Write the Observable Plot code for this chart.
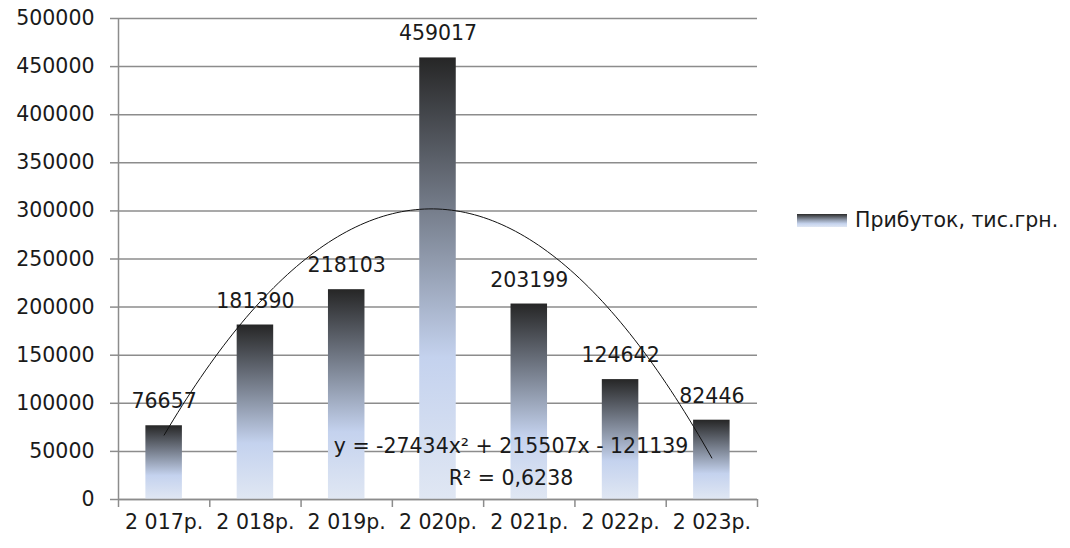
<!DOCTYPE html>
<html>
<head>
<meta charset="utf-8">
<script src="https://cdn.jsdelivr.net/npm/d3@7"></script>
<script src="https://cdn.jsdelivr.net/npm/@observablehq/plot@0.6"></script>
<style>
  html, body { margin: 0; padding: 0; background: #fff; }
  #wrap { position: relative; width: 1070px; height: 548px; font-family: "DejaVu Sans", sans-serif; }
  #legend { position: absolute; left: 797px; top: 208px; display: flex; align-items: center; font-size: 20.5px; color: #1a1a1a; }
  #legend .sw { width: 50px; height: 13px; margin-right: 8px; background: linear-gradient(#2b2b2b, #8f99aa 45%, #c6d4ee 75%, #dfe6f3); }
</style>
</head>
<body>
<div id="wrap"><div id="chart"></div>
<div id="legend"><span class="sw"></span><span>Прибуток, тис.грн.</span></div></div>
<script>
const years = ["2 017р.", "2 018р.", "2 019р.", "2 020р.", "2 021р.", "2 022р.", "2 023р."];
const profit = [76657, 181390, 218103, 459017, 203199, 124642, 82446];
const trendCoef = [-27434, 215507, -121139]; // a, b, c of y = a x² + b x + c
const equationText = ["y = -27434x² + 215507x - 121139", "R² = 0,6238"];
const yTicks = [0, 50000, 100000, 150000, 200000, 250000, 300000, 350000, 400000, 450000, 500000];

const data = profit.map((v, i) => ({i: i + 1, year: years[i], value: v}));
const curve = d3.range(1, 7.001, 0.05).map(x => ({x, y: trendCoef[0] * x * x + trendCoef[1] * x + trendCoef[2]}));
const boundaries = d3.range(0.5, 7.51, 1);
const halfW = 0.2;

const defs = () => {
  const svg = d3.create("svg:defs");
  const g = svg.append("linearGradient").attr("id", "barGrad").attr("x1", 0).attr("y1", 0).attr("x2", 0).attr("y2", 1);
  g.append("stop").attr("offset", "0%").attr("stop-color", "#262626");
  g.append("stop").attr("offset", "45%").attr("stop-color", "#8e98aa");
  g.append("stop").attr("offset", "68%").attr("stop-color", "#c4d2ee");
  g.append("stop").attr("offset", "100%").attr("stop-color", "#e0e7f3");
  return svg.node();
};

const chart = Plot.plot({
  width: 780,
  height: 548,
  marginLeft: 118,
  marginRight: 23,
  marginTop: 18,
  marginBottom: 49,
  style: {fontFamily: "DejaVu Sans, sans-serif", fontSize: "20.5px", color: "#1a1a1a", background: "transparent"},
  x: {type: "linear", domain: [0.5, 7.5]},
  y: {domain: [0, 500000]},
  marks: [
    defs,
    Plot.gridY(yTicks, {stroke: "#8c8c8c", strokeOpacity: 1, strokeWidth: 1.5}),
    Plot.axisY(yTicks, {tickSize: 8, tickPadding: 16, stroke: "#8c8c8c", strokeWidth: 1.5, fill: "#1a1a1a", tickFormat: d => String(d), label: null}),
    Plot.ruleX([0.5], {stroke: "#8c8c8c", strokeWidth: 1.5}),
    Plot.rectY(data, {x1: d => d.i - halfW, x2: d => d.i + halfW, y: "value", fill: "url(#barGrad)"}),
    Plot.axisX(boundaries, {tickSize: 8, stroke: "#8c8c8c", strokeWidth: 1.5, tickFormat: () => "", label: null}),
    Plot.ruleY([0], {stroke: "#8c8c8c", strokeWidth: 1.5}),
    Plot.axisX(data.map(d => d.i), {tickSize: 0, tickPadding: 15, tickFormat: d => years[d - 1], fill: "#1a1a1a", label: null}),
    Plot.line(curve, {x: "x", y: "y", stroke: "#111", strokeWidth: 1}),
    Plot.text(data, {x: "i", y: "value", text: d => String(d.value), dy: -24, fill: "#1a1a1a"}),
    Plot.text([equationText[0]], {x: [4.8], y: [55000], text: d => d, fill: "#1a1a1a"}),
    Plot.text([equationText[1]], {x: [4.8], y: [22000], text: d => d, fill: "#1a1a1a"})
  ]
});
document.getElementById("chart").appendChild(chart);
</script>
</body>
</html>
